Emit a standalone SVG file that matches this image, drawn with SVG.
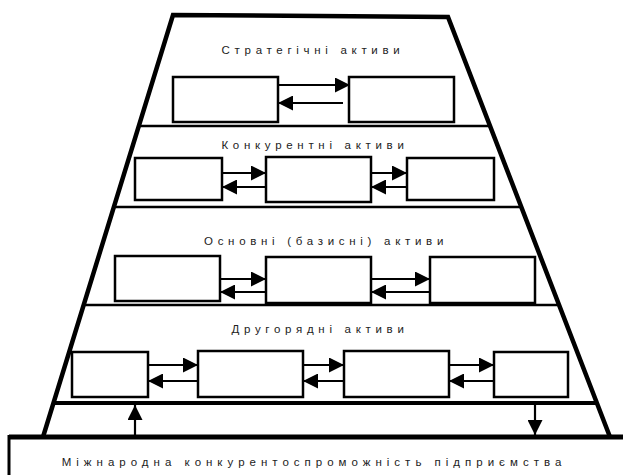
<svg xmlns="http://www.w3.org/2000/svg" width="623" height="475" viewBox="0 0 623 475">
<defs>
<marker id="ah" markerUnits="userSpaceOnUse" markerWidth="15" markerHeight="15" refX="15" refY="7.5" orient="auto">
<path d="M0,0 L15,7.5 L0,15 z" fill="#000"/>
</marker>
</defs>
<style>
.box{fill:#fff;stroke:#000;stroke-width:2.5}
.conn{fill:none;stroke:#000;stroke-width:2.2;marker-end:url(#ah)}
.div{stroke:#000;stroke-width:2.5;fill:none}
.lbl{font-family:"Liberation Sans",Arial,sans-serif;font-size:11.5px;letter-spacing:4.7px;fill:#222;text-anchor:middle}
.big{letter-spacing:5px}
</style>
<rect width="623" height="475" fill="#fff"/>
<g id="frame">
<polyline points="43,437 173,15 448,17 610,437" fill="none" stroke="#000" stroke-width="4.5"/>
<line class="div" x1="139" y1="126" x2="490" y2="126"/>
<line class="div" x1="114" y1="207" x2="521" y2="207"/>
<line class="div" x1="84" y1="305" x2="559" y2="305"/>
<line x1="53" y1="403" x2="597" y2="403" stroke="#000" stroke-width="4"/>
</g>
<g id="level1">
<text class="lbl" x="313" y="54">Стратегічні активи</text>
<rect id="n1a" class="box" x="173" y="77" width="105" height="45"/>
<rect id="n1b" class="box" x="349" y="77" width="105" height="45"/>
</g>
<g id="level2">
<text class="lbl" x="315" y="149">Конкурентні активи</text>
<rect id="n2a" class="box" x="135" y="158" width="87" height="42"/>
<rect id="n2b" class="box" x="266" y="157" width="105" height="45"/>
<rect id="n2c" class="box" x="407" y="158" width="87" height="42"/>
</g>
<g id="level3">
<text class="lbl" x="326" y="245">Основні (базисні) активи</text>
<rect id="n3a" class="box" x="115" y="256" width="105" height="45"/>
<rect id="n3b" class="box" x="266" y="257" width="105" height="46"/>
<rect id="n3c" class="box" x="430" y="257" width="105" height="46"/>
</g>
<g id="level4">
<text class="lbl" x="320" y="333">Другорядні активи</text>
<rect id="n4a" class="box" x="72" y="352" width="76" height="45"/>
<rect id="n4b" class="box" x="198" y="351" width="105" height="46"/>
<rect id="n4c" class="box" x="344" y="351" width="105" height="46"/>
<rect id="n4d" class="box" x="494" y="352" width="74" height="45"/>
</g>
<g id="result">
<line x1="9" y1="437" x2="630" y2="437" stroke="#000" stroke-width="5"/>
<line x1="9" y1="435" x2="9" y2="480" stroke="#000" stroke-width="3"/>
<text class="lbl big" x="314" y="466">Міжнародна конкурентоспроможність підприємства</text>
</g>
<g id="connectors">
<line class="conn" x1="278" y1="85" x2="350" y2="85"/>
<line class="conn" x1="343" y1="103" x2="278" y2="103"/>
<line class="conn" x1="222" y1="173" x2="266" y2="173"/>
<line class="conn" x1="266" y1="187" x2="222" y2="187"/>
<line class="conn" x1="371" y1="173" x2="407" y2="173"/>
<line class="conn" x1="407" y1="187" x2="371" y2="187"/>
<line class="conn" x1="220" y1="279" x2="266" y2="279"/>
<line class="conn" x1="266" y1="292" x2="220" y2="292"/>
<line class="conn" x1="371" y1="279" x2="430" y2="279"/>
<line class="conn" x1="430" y1="292" x2="371" y2="292"/>
<line class="conn" x1="148" y1="365" x2="198" y2="365"/>
<line class="conn" x1="198" y1="381" x2="148" y2="381"/>
<line class="conn" x1="303" y1="365" x2="344" y2="365"/>
<line class="conn" x1="344" y1="381" x2="303" y2="381"/>
<line class="conn" x1="449" y1="365" x2="494" y2="365"/>
<line class="conn" x1="494" y1="381" x2="449" y2="381"/>
<line class="conn" x1="135" y1="435" x2="135" y2="405"/>
<line class="conn" x1="535" y1="405" x2="535" y2="435"/>
</g>
</svg>
